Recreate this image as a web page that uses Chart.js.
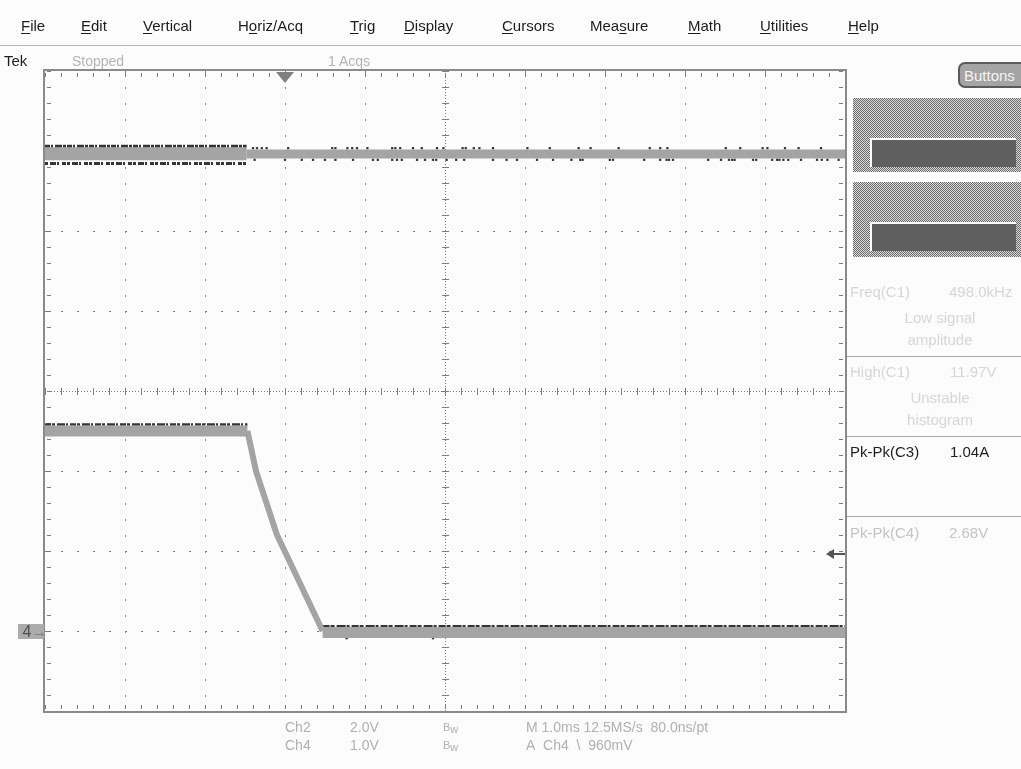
<!DOCTYPE html>
<html>
<head>
<meta charset="utf-8">
<script src="https://cdn.jsdelivr.net/npm/chart.js@4.4.1/dist/chart.umd.min.js"></script>
<style>
html,body{margin:0;padding:0;background:#fcfcfc;overflow:hidden;}
#wrap{position:relative;width:1021px;height:769px;overflow:hidden;font-family:"Liberation Sans",Arial,sans-serif;background:#fcfcfc;}
#c{position:absolute;left:0;top:0;}
.t{position:absolute;white-space:nowrap;line-height:16px;height:16px;}
.menu{font-size:15px;color:#1c1c1c;top:18px;}
.menu u{text-decoration:underline;text-underline-offset:2px;}
#sep{position:absolute;left:0;top:45px;width:1021px;height:1px;background:#b4b4b4;border-bottom:1px solid #fff;}
.stat{font-size:14px;color:#b4b4b4;}
.bot{font-size:14px;color:#b0b0b0;}
.meas{font-size:15px;color:#d6d6d6;}
.dark{color:#1e1e1e;}
.mid{color:#c4c4c4;}
.hl{position:absolute;left:847px;width:174px;height:1px;background:#a8a8a8;}
.dith{position:absolute;left:853px;width:168px;background:repeating-conic-gradient(#6e6e6e 0 25%,#d8d8d8 0 50%) 0 0/2px 2px;}
.bar{position:absolute;left:870px;width:144px;background:#5f5f5f;border-top:2px solid #fff;border-left:2px solid #fff;}
#btn{position:absolute;left:958px;top:62px;width:90px;height:26px;background:#a4a4a4;border:2px solid #5a5a5a;border-radius:7px 0 0 7px;color:#f4f4f4;font-size:15px;line-height:24px;padding-left:4px;box-sizing:border-box;}
#m4{position:absolute;left:18px;top:624px;width:26px;height:15px;background:#acacac;color:#505050;font-size:16px;line-height:15px;}
</style>
</head>
<body>
<div id="wrap">
<canvas id="c" width="1021" height="769"></canvas>

<div class="t menu" style="left:21px"><u>F</u>ile</div>
<div class="t menu" style="left:81px"><u>E</u>dit</div>
<div class="t menu" style="left:143px"><u>V</u>ertical</div>
<div class="t menu" style="left:238px">H<u>o</u>riz/Acq</div>
<div class="t menu" style="left:350px"><u>T</u>rig</div>
<div class="t menu" style="left:404px"><u>D</u>isplay</div>
<div class="t menu" style="left:502px"><u>C</u>ursors</div>
<div class="t menu" style="left:590px">Mea<u>s</u>ure</div>
<div class="t menu" style="left:688px"><u>M</u>ath</div>
<div class="t menu" style="left:760px"><u>U</u>tilities</div>
<div class="t menu" style="left:848px"><u>H</u>elp</div>
<div id="sep"></div>

<div class="t stat" style="left:4px;top:53px;color:#1e1e1e;font-size:15px">Tek</div>
<div class="t stat" style="left:72px;top:53px">Stopped</div>
<div class="t stat" style="left:328px;top:53px">1 Acqs</div>

<div id="btn">Buttons</div>
<div class="dith" style="top:98px;height:74px"></div>
<div class="bar" style="top:138px;height:27px"></div>
<div class="dith" style="top:182px;height:75px"></div>
<div class="bar" style="top:222px;height:27px"></div>

<div class="t meas" style="left:850px;top:284px">Freq(C1)</div>
<div class="t meas" style="left:949px;top:284px">498.0kHz</div>
<div class="t meas" style="left:940px;top:310px;transform:translateX(-50%)">Low signal</div>
<div class="t meas" style="left:940px;top:332px;transform:translateX(-50%)">amplitude</div>
<div class="hl" style="top:356px"></div>
<div class="t meas" style="left:850px;top:364px">High(C1)</div>
<div class="t meas" style="left:950px;top:364px">11.97V</div>
<div class="t meas" style="left:940px;top:390px;transform:translateX(-50%)">Unstable</div>
<div class="t meas" style="left:940px;top:412px;transform:translateX(-50%)">histogram</div>
<div class="hl" style="top:436px"></div>
<div class="t meas dark" style="left:850px;top:444px">Pk-Pk(C3)</div>
<div class="t meas dark" style="left:950px;top:444px">1.04A</div>
<div class="hl" style="top:516px"></div>
<div class="t meas mid" style="left:850px;top:525px">Pk-Pk(C4)</div>
<div class="t meas mid" style="left:949px;top:525px">2.68V</div>

<div id="m4">&nbsp;4<span style="color:#7a7a7a">&#8594;</span></div>

<div class="t bot" style="left:285px;top:719px">Ch2</div>
<div class="t bot" style="left:350px;top:719px">2.0V</div>
<div class="t bot" style="left:443px;top:719px;font-size:11px">B<span style="position:relative;top:2px">w</span></div>
<div class="t bot" style="left:526px;top:719px">M 1.0ms 12.5MS/s&nbsp; 80.0ns/pt</div>
<div class="t bot" style="left:285px;top:737px">Ch4</div>
<div class="t bot" style="left:350px;top:737px">1.0V</div>
<div class="t bot" style="left:443px;top:737px;font-size:11px">B<span style="position:relative;top:2px">w</span></div>
<div class="t bot" style="left:526px;top:737px">A&nbsp; Ch4 &nbsp;\ &nbsp;960mV</div>
</div>

<script>
// ---- scope settings ----
const TIME_RANGE = [-3, 7];          // ms (1.0 ms/div, trigger 3 div from left)
const DIV_RANGE = [-4, 4];           // vertical divisions
const CH2_VDIV = 2.0, CH2_POS = -3;  // V/div, ground position (div)
const CH4_VDIV = 1.0, CH4_POS = -3;
const TRIG_TIME = 0, TRIG_LEVEL = 0.96; // ms, V (Ch4 falling)

// ---- Ch2 trace ----
const ch2PreTime = [-3.0, -0.48];
const ch2PreVolts = [11.93, 11.93];
const ch2PostTime = [-0.48, 7.0];
const ch2PostVolts = [11.925, 11.925];
const ch2NoiseHigh = 12.12, ch2NoiseLow = 11.69;   // pre-trigger noise edges
const ch2SpikeHighV = 12.07, ch2SpikeLowV = 11.78;
const ch2SpikeHighTimes = [-0.40,-0.35,-0.29,-0.23,0.04,0.59,0.63,0.78,0.84,0.90,1.03,1.34,1.38,1.44,1.60,1.71,1.90,1.98,2.22,2.26,2.36,2.43,2.60,3.03,3.31,3.67,3.82,4.17,4.56,4.69,4.78,5.51,5.69,5.97,6.03,6.25,6.42,6.70];
const ch2SpikeLowTimes = [-0.38,0.00,0.21,0.35,0.50,0.63,0.85,1.10,1.16,1.34,1.40,1.46,1.65,1.75,1.85,1.89,2.02,2.14,2.24,2.60,2.77,2.90,3.15,3.35,3.58,3.69,3.72,4.06,4.10,4.49,4.69,4.77,4.80,4.85,5.29,5.45,5.55,5.59,5.62,5.85,5.89,6.09,6.15,6.18,6.23,6.29,6.45,6.65,6.71,6.78,6.92];

// ---- Ch4 trace ----
const ch4HighTime = [-3.0, -0.47];
const ch4HighVolts = [2.50, 2.50];
const ch4FallTime = [-0.47, -0.36, -0.10, 0.00, 0.47];
const ch4FallVolts = [2.50, 1.99, 1.20, 0.99, 0.00];
const ch4LowTime = [0.47, 7.0];
const ch4LowVolts = [-0.02, -0.02];
const ch4HighEdgeV = 2.58, ch4LowEdgeV = 0.06;
const ch4LowSpeckTimes = [0.77, 1.85];
const ch4LowSpeckV = -0.09;

const d2 = v => CH2_POS + v / CH2_VDIV;
const d4 = v => CH4_POS + v / CH4_VDIV;
const pts = (ts, vs, f) => ts.map((t, i) => ({x: t, y: f(vs[i])}));
const flat = (ts, v, f) => ts.map(t => ({x: t, y: f(v)}));

const BAND = '#a4a4a4', DARK = '#353535';
const lineDs = (data, w, color, dash) => ({type:'line', data, borderColor: color, borderWidth: w, borderDash: dash || [], pointRadius: 0, tension: 0, borderCapStyle: 'butt', borderJoinStyle: 'round'});
const dotDs = (data, color) => ({type:'scatter', data, pointStyle:'rect', pointRadius: 1.6, backgroundColor: color, borderWidth: 0, showLine: false});

const graticule = {
  id: 'graticule',
  beforeDatasetsDraw(chart) {
    const {ctx, chartArea: a, scales: {x, y}} = chart;
    ctx.save();
    ctx.fillStyle = '#7e7e7e';
    const xs = [], ys = [], xm = [], ym = [];
    for (let v = TIME_RANGE[0]; v <= TIME_RANGE[1] + 1e-9; v += 1) xs.push(v);
    for (let v = DIV_RANGE[0]; v <= DIV_RANGE[1] + 1e-9; v += 1) ys.push(v);
    for (let v = TIME_RANGE[0]; v <= TIME_RANGE[1] + 1e-9; v += 0.2) xm.push(v);
    for (let v = DIV_RANGE[0]; v <= DIV_RANGE[1] + 1e-9; v += 0.2) ym.push(v);
    const cx = (TIME_RANGE[0] + TIME_RANGE[1]) / 2, cy = 0;
    xs.slice(1, -1).forEach(v => {
      if (Math.abs(v - cx) < 1e-6) return;
      const px = Math.round(x.getPixelForValue(v));
      ym.forEach(m => ctx.fillRect(px, Math.round(y.getPixelForValue(m)), 1, 2));
    });
    ys.slice(1, -1).forEach(v => {
      if (Math.abs(v - cy) < 1e-6) return;
      const py = Math.round(y.getPixelForValue(v));
      xm.forEach(m => ctx.fillRect(Math.round(x.getPixelForValue(m)), py, 2, 1));
    });
    const pcx = Math.round(x.getPixelForValue(cx)), pcy = Math.round(y.getPixelForValue(cy));
    for (let p = a.top; p < a.bottom; p += 3) ctx.fillRect(pcx, p, 1, 1);
    for (let p = a.left; p < a.right; p += 3) ctx.fillRect(p, pcy, 1, 1);
    ym.forEach(m => { const py = Math.round(y.getPixelForValue(m)); ctx.fillRect(pcx - 3, py, 7, 1); });
    xm.forEach(m => { const px = Math.round(x.getPixelForValue(m)); ctx.fillRect(px, pcy - 3, 1, 7); });
    ym.forEach(m => { const py = Math.round(y.getPixelForValue(m)); ctx.fillRect(a.left + 2, py, 4, 1); ctx.fillRect(a.right - 6, py, 4, 1); });
    xm.forEach(m => { const px = Math.round(x.getPixelForValue(m)); ctx.fillRect(px, a.top + 2, 1, 4); ctx.fillRect(px, a.bottom - 6, 1, 4); });
    ctx.strokeStyle = '#8a8a8a';
    ctx.lineWidth = 2;
    ctx.strokeRect(a.left - 1, a.top - 1, a.right - a.left + 2, a.bottom - a.top + 2);
    ctx.restore();
  },
  afterDatasetsDraw(chart) {
    const {ctx, chartArea: a, scales: {x, y}} = chart;
    ctx.save();
    const tx = x.getPixelForValue(TRIG_TIME);
    ctx.fillStyle = '#808080';
    ctx.beginPath();
    ctx.moveTo(tx - 9, a.top + 1); ctx.lineTo(tx + 9, a.top + 1); ctx.lineTo(tx, a.top + 12); ctx.closePath(); ctx.fill();
    const ty = Math.round(y.getPixelForValue(d4(TRIG_LEVEL)));
    ctx.fillStyle = '#555';
    ctx.fillRect(a.right - 12, ty - 1, 12, 2);
    ctx.beginPath();
    ctx.moveTo(a.right - 19, ty); ctx.lineTo(a.right - 11, ty - 5); ctx.lineTo(a.right - 11, ty + 5); ctx.closePath(); ctx.fill();
    ctx.restore();
  }
};

new Chart(document.getElementById('c'), {
  type: 'line',
  data: {
    datasets: [
      lineDs(pts(ch2PreTime, ch2PreVolts, d2), 13, BAND),
      lineDs(flat(ch2PreTime, ch2NoiseHigh, d2), 3, DARK, [5, 1, 2, 2, 7, 1, 3, 1]),
      lineDs(flat(ch2PreTime, ch2NoiseLow, d2), 3, DARK, [3, 2, 6, 1, 2, 3, 4, 1]),
      lineDs(pts(ch2PostTime, ch2PostVolts, d2), 9, BAND),
      lineDs(pts(ch2PostTime, ch2PostVolts, d2), 1.5, '#c6c6c6', [4, 3]),
      dotDs(flat(ch2SpikeHighTimes, ch2SpikeHighV, d2), DARK),
      dotDs(flat(ch2SpikeLowTimes, ch2SpikeLowV, d2), DARK),
      lineDs(pts(ch4HighTime, ch4HighVolts, d4), 11, BAND),
      lineDs(flat(ch4HighTime, ch4HighEdgeV, d4), 2.5, DARK, [6, 1, 3, 2, 8, 1, 2, 2]),
      lineDs(pts(ch4FallTime, ch4FallVolts, d4), 6, BAND),
      lineDs(pts(ch4FallTime, ch4FallVolts, d4), 1.5, '#555', [2, 9]),
      lineDs(pts(ch4LowTime, ch4LowVolts, d4), 11, BAND),
      lineDs(flat(ch4LowTime, ch4LowEdgeV, d4), 2.5, DARK, [7, 1, 4, 2, 9, 1, 3, 2]),
      dotDs(flat(ch4LowSpeckTimes, ch4LowSpeckV, d4), DARK)
    ]
  },
  options: {
    responsive: false,
    animation: false,
    devicePixelRatio: 1,
    layout: {padding: {left: 45, top: 71, right: 176, bottom: 58}},
    plugins: {legend: {display: false}, tooltip: {enabled: false}},
    scales: {
      x: {type: 'linear', min: TIME_RANGE[0], max: TIME_RANGE[1], display: false},
      y: {type: 'linear', min: DIV_RANGE[0], max: DIV_RANGE[1], display: false}
    },
    elements: {line: {fill: false}}
  },
  plugins: [graticule]
});
</script>
</body>
</html>
